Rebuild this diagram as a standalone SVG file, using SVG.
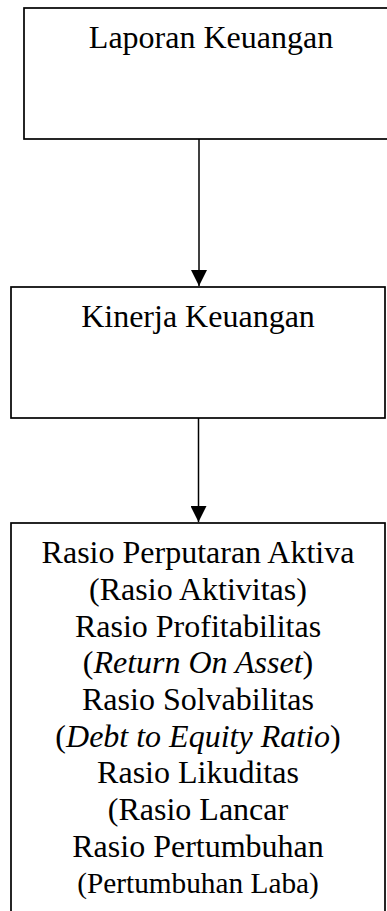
<svg xmlns="http://www.w3.org/2000/svg" width="387" height="911" viewBox="0 0 387 911">
<style>
.box{fill:#fff;stroke:#000;stroke-width:1.7}
.t{font-family:"Liberation Serif","Times New Roman","DejaVu Serif",serif;font-size:32px;fill:#000;text-anchor:middle}
.s{font-size:29.3px}
.conn{stroke:#000;stroke-width:1.5;fill:none}
</style>
<defs>
<marker id="ah" markerUnits="userSpaceOnUse" markerWidth="16" markerHeight="16" viewBox="0 0 16 16" refX="16" refY="8" orient="auto">
<path d="M0,0 L16,8 L0,16 Z" fill="#000"/>
</marker>
</defs>
<g id="node-laporan">
<rect class="box" x="24" y="8" width="380" height="131"/>
<text class="t" x="211" y="48">Laporan Keuangan</text>
</g>
<g id="node-kinerja">
<rect class="box" x="11" y="287" width="374" height="131"/>
<text class="t" x="198" y="327">Kinerja Keuangan</text>
</g>
<g id="node-rasio">
<rect class="box" x="11" y="523" width="374" height="400"/>
<text class="t" x="198" y="563">Rasio Perputaran Aktiva</text>
<text class="t" x="198" y="600">(Rasio Aktivitas)</text>
<text class="t" x="198" y="637">Rasio Profitabilitas</text>
<text class="t" x="198" y="673">(<tspan font-style="italic">Return On Asset</tspan>)</text>
<text class="t" x="198" y="710">Rasio Solvabilitas</text>
<text class="t" x="198" y="747">(<tspan font-style="italic">Debt to Equity Ratio</tspan>)</text>
<text class="t" x="198" y="783">Rasio Likuditas</text>
<text class="t" x="198" y="820">(Rasio Lancar</text>
<text class="t" x="198" y="857">Rasio Pertumbuhan</text>
<text class="t s" x="198" y="893">(Pertumbuhan Laba)</text>
</g>
<g id="connectors">
<line class="conn" x1="199" y1="139" x2="199" y2="286" marker-end="url(#ah)"/>
<line class="conn" x1="198.5" y1="418" x2="198.5" y2="522" marker-end="url(#ah)"/>
</g>
</svg>
